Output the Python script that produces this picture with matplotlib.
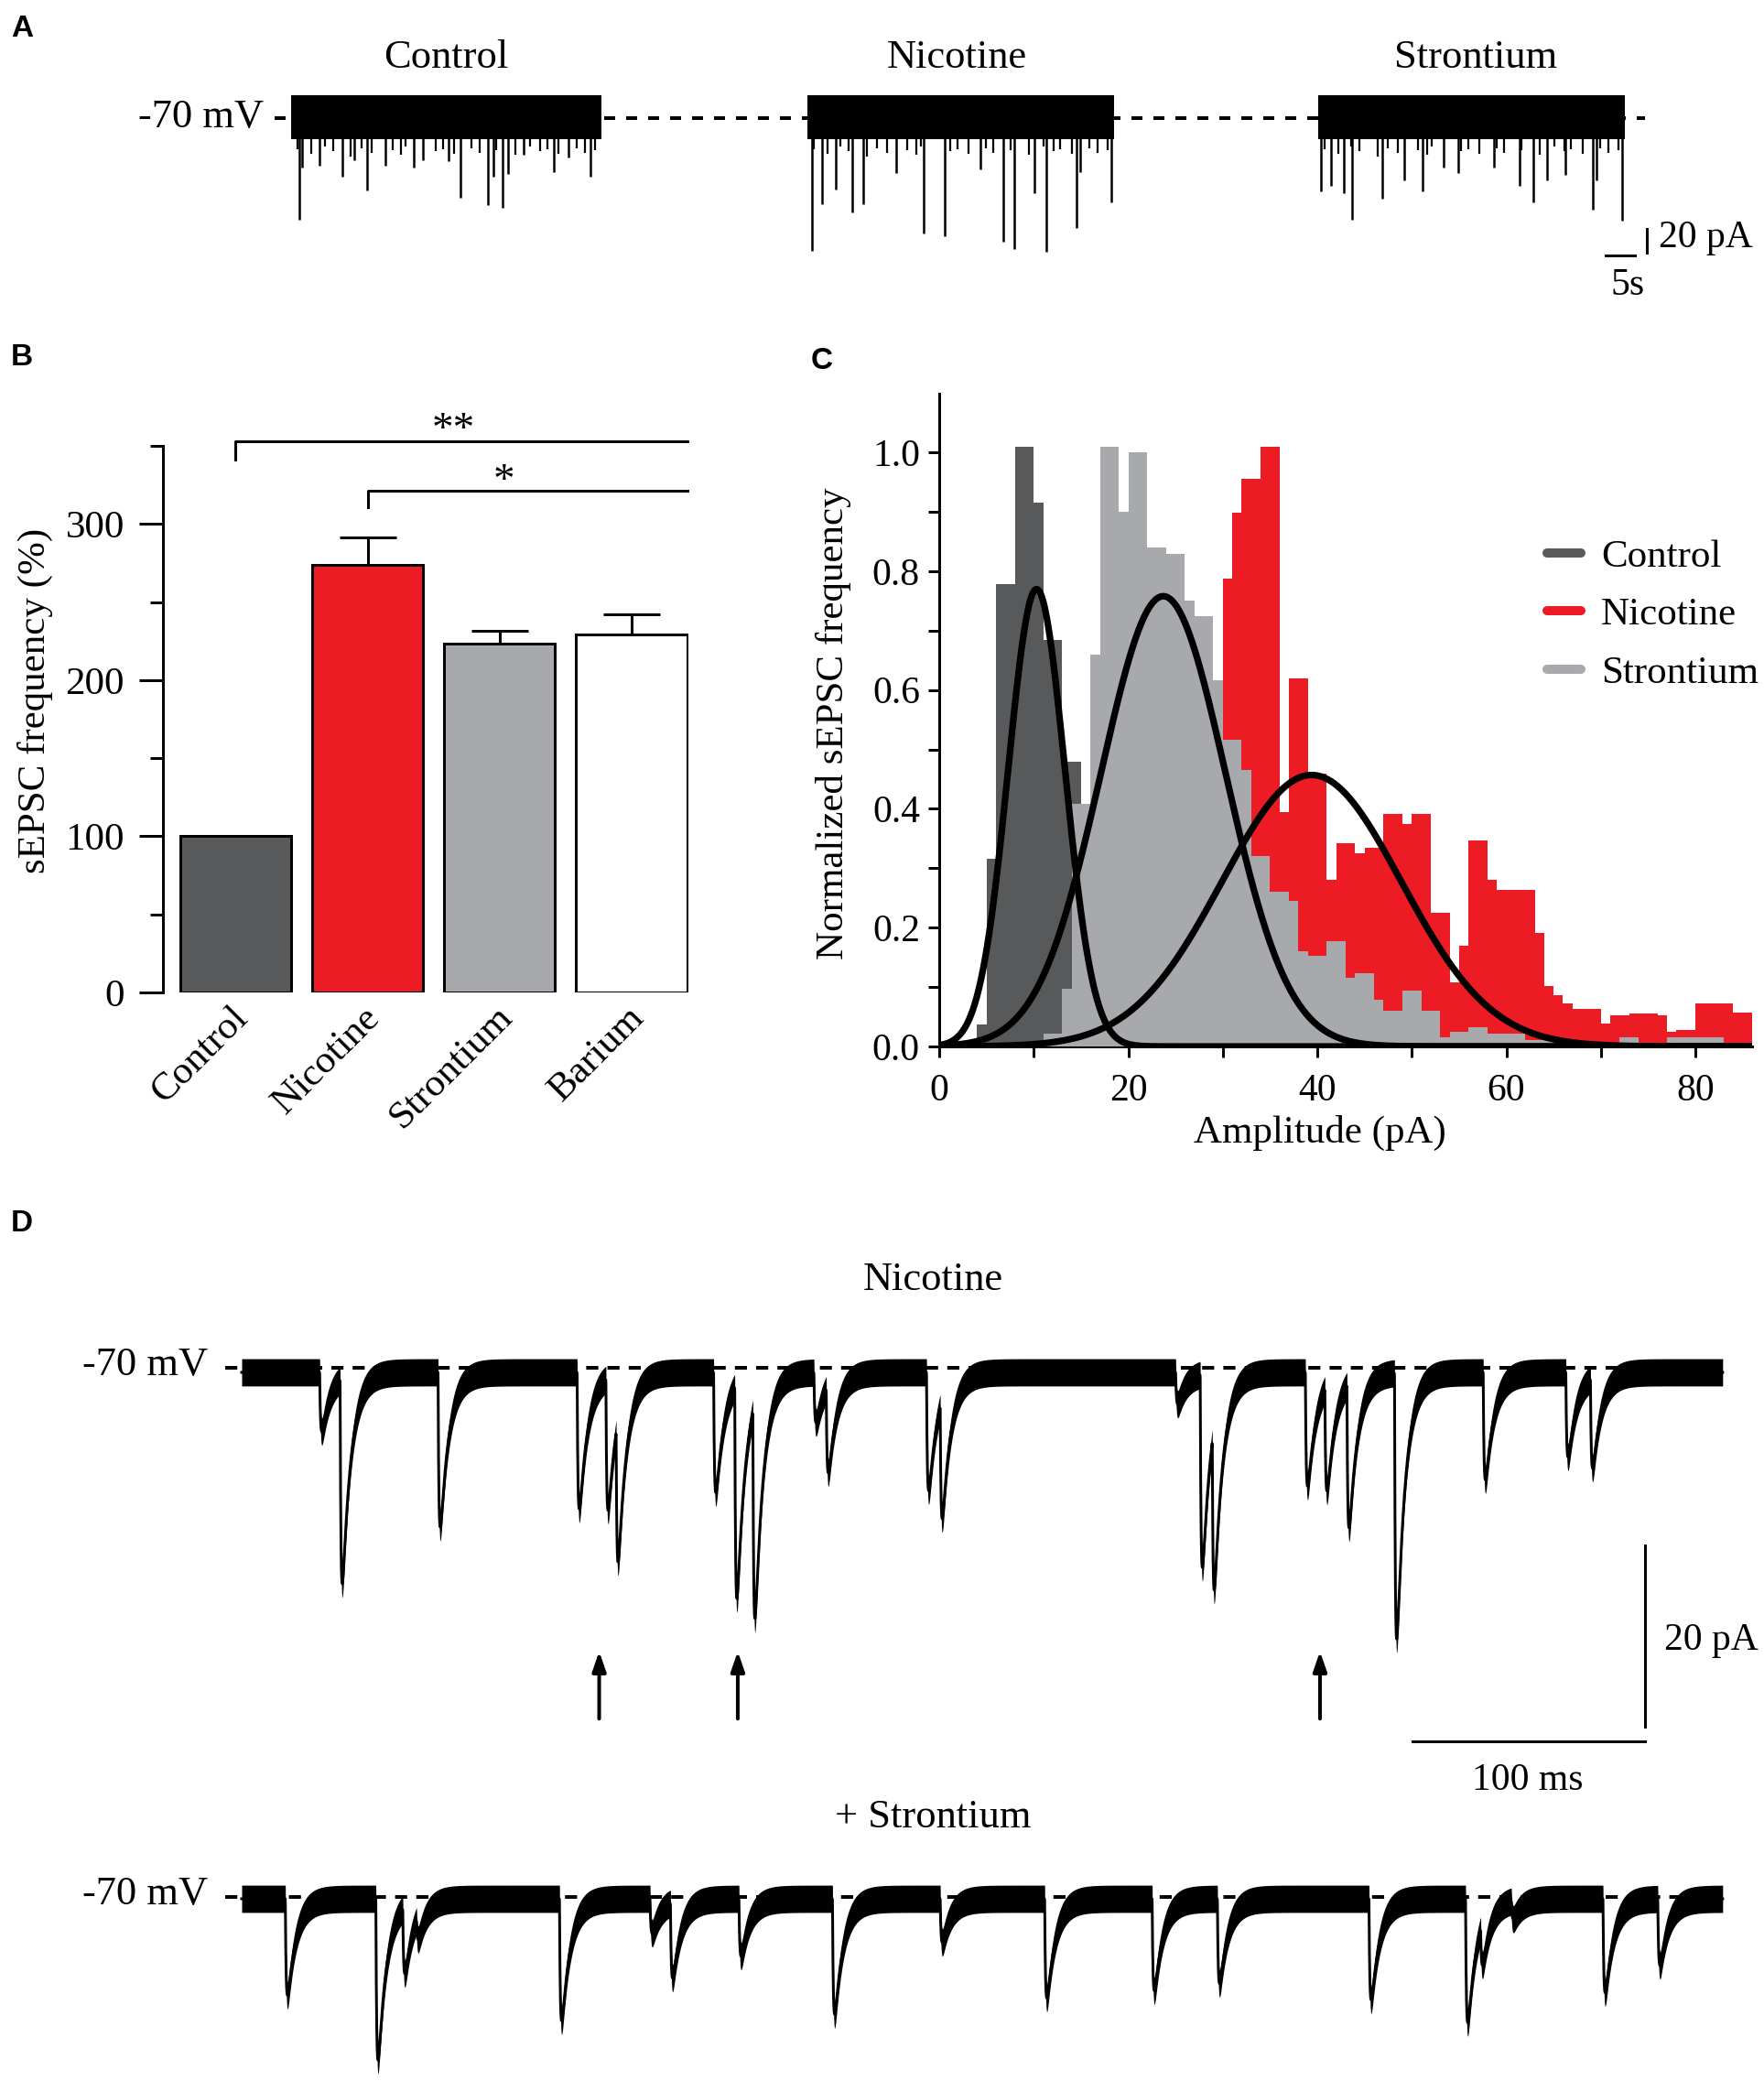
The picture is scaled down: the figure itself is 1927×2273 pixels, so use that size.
import numpy as np
import matplotlib
matplotlib.use('Agg')
import matplotlib.pyplot as plt
from matplotlib.lines import Line2D
from matplotlib.ticker import FixedLocator, FormatStrFormatter
import matplotlib.transforms as mtransforms

# ---------------- DATA ----------------
# Panel A: spontaneous EPSC recordings (time s, amplitude pA)
A_names = ["Control", "Nicotine", "Strontium"]
A_duration = 51.4
A_ctrl_t = [1.39, 1.86, 4.65, 8.55, 10.41, 12.55, 15.61, 20.26, 21.84, 26.02, 28.07, 32.53, 33.46, 35.04, 35.88, 38.57, 43.5, 46.0, 49.54]
A_ctrl_a = [85, 41.5, 40, 49, 35, 61, 40, 41.5, 35, 36, 67, 73, 49, 75, 47, 31, 45, 33, 49]
A_nic_t = [0.73, 2.51, 4.70, 7.52, 9.40, 14.83, 19.54, 22.98, 28.94, 32.91, 34.69, 38.03, 40.01, 45.13, 45.65, 50.88]
A_nic_a = [111.5, 72, 60, 79, 72, 46, 97, 99, 43, 104, 110, 63, 112, 92, 45, 71]
A_sr_t = [0.52, 2.19, 4.27, 5.73, 10.74, 14.39, 17.52, 20.96, 23.46, 29.5, 33.68, 36.07, 38.37, 41.5, 45.98, 46.71, 50.88]
A_sr_a = [61.5, 57, 63, 85, 68, 52, 61.5, 41.5, 46, 41.5, 57, 71, 52, 48, 77, 52, 86]
# smaller events fringing the noise band
A_small_t = [1.0, 3.3, 5.6, 6.9, 9.9, 11.6, 13.4, 16.8, 18.2, 19.0, 23.9, 25.1, 27.0, 29.9, 31.2, 34.0, 37.1, 39.6, 41.2, 42.4, 44.3, 47.3, 48.6, 50.3]
A_small_a = [26, 30, 24, 28, 32, 25, 29, 27, 31, 24, 28, 26, 30, 25, 29, 27, 31, 24, 28, 26, 30, 25, 29, 27]
A_noise_hi, A_noise_lo = 19, -18

# Panel B
B_labels = ["Control", "Nicotine", "Strontium", "Barium"]
B_mean = [100, 273.5, 223.5, 229.5]
B_sem = [0, 18, 8, 12.5]
B_colors = ["#58595b", "#ed1c24", "#a7a9ac", "#ffffff"]

# Panel C: amplitude histograms (1 pA bins starting at 0 pA)
C_ctrl = [0, 0, 0, 0, 0.037, 0.316, 0.778, 0.778, 1.01, 1.01, 0.915, 0.684, 0.684, 0.48, 0.48,
          0.2, 0.1, 0.05, 0.02]
C_sr = [0, 0, 0, 0.011, 0, 0, 0, 0, 0, 0, 0, 0.022, 0.022, 0.097, 0.408, 0.408, 0.66, 1.01, 1.01, 0.90,
        1.0, 1.0, 0.84, 0.84, 0.83, 0.83, 0.75, 0.725, 0.725, 0.617, 0.517, 0.517, 0.465, 0.32, 0.32,
        0.26, 0.26, 0.245, 0.16, 0.152, 0.152, 0.178, 0.178, 0.115, 0.123, 0.123, 0.078, 0.06, 0.06,
        0.094, 0.094, 0.06, 0.06, 0.015, 0.025, 0.025, 0.032, 0.032, 0.022, 0.022, 0.022, 0.022,
        0.011, 0.011, 0.011, 0.011, 0.005, 0.005, 0.005, 0.005, 0.005, 0.005, 0.015, 0.015, 0.005,
        0.005, 0.005, 0.015, 0.015, 0.015, 0.015, 0.015, 0.015, 0, 0, 0]
C_nic = [0, 0, 0, 0, 0, 0, 0, 0, 0.01, 0.03, 0.06, 0.1, 0.15, 0.2, 0.25, 0.3, 0.35, 0.4, 0.42, 0.45,
         0.5, 0.5, 0.55, 0.55, 0.6, 0.6, 0.62, 0.65, 0.68, 0.6, 0.788, 0.898, 0.955, 0.955, 1.01, 1.01,
         0.394, 0.62, 0.62, 0.459, 0.459, 0.28, 0.342, 0.342, 0.325, 0.335, 0.335, 0.392, 0.392, 0.375,
         0.392, 0.392, 0.225, 0.225, 0.108, 0.169, 0.347, 0.347, 0.28, 0.264, 0.264, 0.264, 0.264,
         0.191, 0.102, 0.086, 0.072, 0.063, 0.063, 0.063, 0.039, 0.052, 0.052, 0.056, 0.056, 0.056,
         0.052, 0.025, 0.028, 0.028, 0.072, 0.072, 0.072, 0.072, 0.057, 0.057]
C_names = ["Control", "Nicotine", "Strontium"]
C_colors = ["#58595b", "#ed1c24", "#a7a9ac"]
# Gaussian fits: amplitude, mean (pA), sd (pA)
C_fit_A = [0.77, 0.457, 0.758]
C_fit_mu = [10.3, 39.4, 23.7]
C_fit_sd = [3.0, 9.5, 6.6]

# Panel D: events (peak time ms, depth pA)
D_duration = 638
D1_t = [34.6, 43.4, 85.6, 145.5, 157.9, 162.3, 204.3, 213.4, 221.2, 247.5, 252.8, 296.0, 301.9,
        403.3, 413.9, 419.1, 459.2, 467.6, 477.1, 497.6, 535.8, 571.4, 582.0]
D1_a = [8, 24, 18.5, 16.5, 16, 17, 14.7, 25, 25, 7, 11, 14.5, 14.5,
        5, 22.7, 19.3, 14, 13, 17.4, 30.7, 13.3, 10.8, 11.4]
D2_t = [19.8, 58.8, 70.4, 76.3, 137.9, 176.9, 185.7, 215.2, 255.5, 301.9, 346.9, 393.2, 421.3,
        486.6, 528.2, 534.7, 547.9, 587.4, 611.0]
D2_a = [12.1, 19.2, 8.8, 4, 14.9, 5.3, 9.8, 7.8, 14.2, 6.3, 12.4, 11.6, 10.8,
        12.6, 15.1, 6, 3.5, 11.8, 8.8]
D_arrows = [154.0, 213.7, 464.5]
D_tau_rise, D_tau_decay = 0.4, 3.8
D_noise = 1.5

# ---------------- FIGURE ----------------
W, H, DPI = 1927, 2273, 100
PT = 72 / DPI
SERIF = ['Liberation Serif', 'DejaVu Serif']
plt.rcParams['font.family'] = 'serif'
plt.rcParams['font.serif'] = SERIF
fig = plt.figure(figsize=(W / DPI, H / DPI), dpi=DPI)


def px_axes(x0, y0, x1, y1):
    ax = fig.add_axes([x0 / W, 1 - y1 / H, (x1 - x0) / W, (y1 - y0) / H])
    ax.patch.set_alpha(0)
    return ax


def ftext(x, y, s, **kw):
    kw.setdefault('family', SERIF)
    return fig.text(x / W, 1 - y / H, s, **kw)


def bare(ax):
    ax.set_axis_off()


def serif_ticks(ax):
    for lab in ax.get_xticklabels() + ax.get_yticklabels():
        lab.set_fontfamily(SERIF)


LBL = dict(family=['Liberation Sans', 'DejaVu Sans'], fontweight='bold', fontsize=24, va='top', ha='left')
ftext(12, 16, 'A', **LBL)
ftext(12, 375, 'B', **LBL)
ftext(886, 379, 'C', **LBL)
ftext(12, 1321, 'D', **LBL)

# ---------------- Panel A ----------------
A_ylim = (-120, 25)
A_top, A_bot = 129 - 25 * 1.3, 129 + 120 * 1.3
axAd = px_axes(300, A_top, 1797, A_bot)
bare(axAd)
axAd.set_xlim(0, 1)
axAd.set_ylim(*A_ylim)
axAd.plot([0, 1], [0, 0], color='k', lw=4 * PT, linestyle=(0, (3, 3)))

A_spans = [(318, 657), (882, 1217), (1440, 1775)]
A_sets = [(A_ctrl_t, A_ctrl_a), (A_nic_t, A_nic_a), (A_sr_t, A_sr_a)]
A_title_x = [487, 1045, 1612]
A_axes = []
for (x0, x1), (tt, aa), name, tx in zip(A_spans, A_sets, A_names, A_title_x):
    ax = px_axes(x0, A_top, x1, A_bot)
    bare(ax)
    ax.set_xlim(0, A_duration)
    ax.set_ylim(*A_ylim)
    ax.fill_between([0, A_duration], A_noise_lo, A_noise_hi, color='k', lw=0)
    ax.vlines(A_small_t, A_noise_lo + 2, -np.array(A_small_a), color='k', lw=1.6)
    ax.vlines(tt, A_noise_lo + 2, -np.array(aa), color='k', lw=1.8)
    ftext(tx, 63, name, ha='center', va='center', fontsize=32)
    A_axes.append(ax)
ftext(288, 128, '-70 mV', ha='right', va='center', fontsize=32)
axs = A_axes[2]
sb_t = (1804 - 1440) / 6.6
axs.plot([sb_t, sb_t], [-93, -93 - 20], color='k', lw=3 * PT, clip_on=False)
axs.plot([sb_t - 7, sb_t - 2], [-115, -115], color='k', lw=3 * PT, clip_on=False)
ftext(1812, 260, '20 pA', ha='left', va='center', fontsize=30)
ftext(1778, 312, '5s', ha='center', va='center', fontsize=30)

# ---------------- Panel B ----------------
axB = px_axes(178, 487, 752, 1084)
xb = np.arange(len(B_labels))
axB.bar(xb, B_mean, width=0.84, color=B_colors, edgecolor='k', linewidth=3 * PT, zorder=3)
axB.errorbar(xb[1:], B_mean[1:], yerr=[np.zeros(3), B_sem[1:]], fmt='none', ecolor='k',
             elinewidth=3 * PT, capsize=31 * PT, capthick=3 * PT, zorder=2)
axB.set_xlim(-0.55, 3.43)
axB.set_ylim(0, 350)
for s in ['top', 'right', 'bottom']:
    axB.spines[s].set_visible(False)
axB.spines['left'].set_linewidth(3 * PT)
axB.set_yticks([0, 100, 200, 300])
axB.yaxis.set_minor_locator(FixedLocator([50, 150, 250, 350]))
axB.tick_params(axis='y', which='major', length=26 * PT, width=3 * PT, labelsize=31, pad=16 * PT)
axB.tick_params(axis='y', which='minor', length=14 * PT, width=3 * PT)
axB.set_xticks(xb)
axB.set_xticklabels(B_labels, rotation=45, ha='right', va='top', rotation_mode='anchor', fontsize=31)
axB.tick_params(axis='x', length=0, pad=8 * PT)
off = mtransforms.ScaledTranslation(-6 / DPI, 0, fig.dpi_scale_trans)
for lab in axB.get_xticklabels():
    lab.set_transform(lab.get_transform() + off)
serif_ticks(axB)
ftext(38, 765, 'sEPSC frequency (%)', rotation=90, ha='center', va='center', fontsize=31)
axB.plot([0, 0, 3.42], [341, 353, 353], color='k', lw=3 * PT, clip_on=False)
axB.plot([1, 1, 3.42], [311, 321, 321], color='k', lw=3 * PT, clip_on=False)
axB.text(1.65, 347, '**', ha='center', va='bottom', fontsize=34, family=SERIF)
axB.text(2.03, 314, '*', ha='center', va='bottom', fontsize=34, family=SERIF)

# ---------------- Panel C ----------------
axC = px_axes(1026, 430, 1914, 1143)
C_sets = [C_nic, C_ctrl, C_sr]
C_cols = [C_colors[1], C_colors[0], C_colors[2]]
for z, (vals, col) in enumerate(zip(C_sets, C_cols)):
    axC.bar(np.arange(len(vals)), vals, width=1.0, align='edge', color=col, lw=0, zorder=1 + z)
xg = np.linspace(0, 86, 800)
for A_, mu, sd in zip(C_fit_A, C_fit_mu, C_fit_sd):
    axC.plot(xg, A_ * np.exp(-0.5 * ((xg - mu) / sd) ** 2), color='k', lw=5.2, zorder=5,
             solid_capstyle='butt')
axC.set_xlim(0, 86)
axC.set_ylim(0, 1.099)
for s in ['top', 'right']:
    axC.spines[s].set_visible(False)
for s in ['left', 'bottom']:
    axC.spines[s].set_linewidth(3 * PT)
axC.set_xticks([0, 20, 40, 60, 80])
axC.xaxis.set_minor_locator(FixedLocator([10, 30, 50, 70]))
axC.set_yticks([0, 0.2, 0.4, 0.6, 0.8, 1.0])
axC.yaxis.set_minor_locator(FixedLocator([0.1, 0.3, 0.5, 0.7, 0.9]))
axC.yaxis.set_major_formatter(FormatStrFormatter('%.1f'))
axC.tick_params(which='both', length=12 * PT, width=3 * PT, labelsize=30)
axC.tick_params(axis='x', which='both', pad=17 * PT)
axC.tick_params(axis='y', which='both', pad=9 * PT)
serif_ticks(axC)
ftext(910, 790, 'Normalized sEPSC frequency', rotation=90, ha='center', va='center', fontsize=31)
ftext(1442, 1237, 'Amplitude (pA)', ha='center', va='center', fontsize=31)
handles = [Line2D([], [], color=c, lw=10 * PT, solid_capstyle='round') for c in C_colors]
leg = axC.legend(handles, C_names, loc='upper left', bbox_to_anchor=(0.748, 0.777), frameon=False,
                 fontsize=31, handlelength=0.86, handletextpad=0.5, labelspacing=0.56,
                 borderpad=0, borderaxespad=0)
for txt in leg.get_texts():
    txt.set_fontfamily(SERIF)

# ---------------- Panel D ----------------
t = np.arange(0, D_duration, 0.05)
tpk = D_tau_rise * D_tau_decay / (D_tau_decay - D_tau_rise) * np.log(D_tau_decay / D_tau_rise)
fpk = (1 - np.exp(-tpk / D_tau_rise)) * np.exp(-tpk / D_tau_decay)


def model(times, depths, base):
    y = np.full_like(t, base)
    for tp, d in zip(times, depths):
        s = t - (tp - tpk)
        s = np.where(s > 0, s, 0)
        y -= (d - D_noise) * (1 - np.exp(-s / D_tau_rise)) * np.exp(-s / D_tau_decay) / fpk
    return y


D_px_per_ms = 2.536
D_px_per_pA = 9.93
D_x0 = 264
xl0 = (246 - D_x0) / D_px_per_ms
xl1 = (1900 - D_x0) / D_px_per_ms

for (times, depths, base, y_base, title, ty, ybot) in [
        (D1_t, D1_a, -0.5, 1494, 'Nicotine', 1398, 1891),
        (D2_t, D2_a, -0.2, 2072, '+ Strontium', 1985, 2273)]:
    ytop = y_base - 6 * D_px_per_pA
    ax = px_axes(246, ytop, 1900, ybot)
    bare(ax)
    ax.set_xlim(xl0, xl1)
    ax.set_ylim(-(ybot - y_base) / D_px_per_pA, 6)
    ax.plot([xl0, D_duration], [0, 0], color='k', lw=4 * PT, linestyle=(0, (3.3, 2.5)), zorder=1)
    y = model(times, depths, base)
    ax.fill_between(t, y - D_noise, y + D_noise, color='k', lw=0, zorder=2)
    ax.plot(t, y, color='k', lw=3 * PT, zorder=3)
    ftext(1019, ty, title, ha='center', va='center', fontsize=32)
    ftext(227, y_base - 3, '-70 mV', ha='right', va='center', fontsize=32)
    if title == 'Nicotine':
        for ta in D_arrows:
            ax.annotate('', xy=(ta, -31.2), xytext=(ta, -38.6),
                        arrowprops=dict(arrowstyle='-|>,head_length=1.3,head_width=0.45',
                                        lw=4 * PT, color='k', shrinkA=0, shrinkB=0),
                        annotation_clip=False)
        sx = (1797 - D_x0) / D_px_per_ms
        ax.plot([sx, sx], [-19.5, -39.5], color='k', lw=3 * PT, clip_on=False)
        ax.plot([sx - 100, sx], [-41.1, -41.1], color='k', lw=3 * PT, clip_on=False)
        ftext(1818, 1792, '20 pA', ha='left', va='center', fontsize=30)
        ftext(1669, 1945, '100 ms', ha='center', va='center', fontsize=30)

fig.savefig('out.png', dpi=DPI)
